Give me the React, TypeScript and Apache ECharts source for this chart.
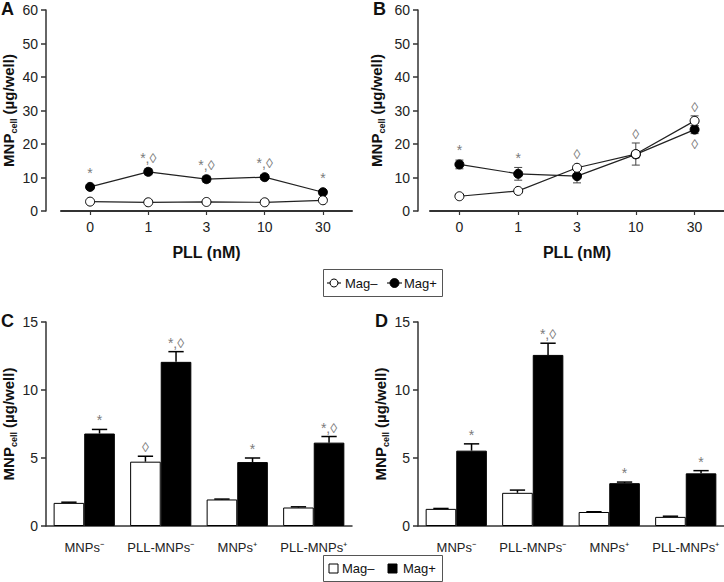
import React, { useEffect, useRef } from "react";
import * as echarts from "echarts";

// ---------- data ----------
const pllDoses = ["0", "1", "3", "10", "30"];

const aMagMinus = [2.8, 2.6, 2.7, 2.6, 3.2];
const aMagMinusErr = [0.2, 0.2, 0.2, 0.2, 0.3];
const aMagPlus = [7.2, 11.7, 9.5, 10.1, 5.6];
const aMagPlusErr = [0.6, 0.9, 0.9, 0.7, 0.5];
const aMagMinusNotes = ["", "", "", "", ""];
const aMagPlusNotes = ["*", "*,◊", "*,◊", "*,◊", "*"];

const bMagMinus = [4.4, 6.0, 12.9, 17.0, 26.9];
const bMagMinusErr = [0.3, 0.3, 0.5, 3.3, 1.5];
const bMagPlus = [13.9, 11.1, 10.4, 16.9, 24.3];
const bMagPlusErr = [1.3, 1.9, 2.0, 1.0, 1.2];
const bMagMinusNotes = ["", "", "◊", "◊", "◊"];
const bMagPlusNotes = ["*", "*", "", "", "◊"];

const particleGroups = ["MNPs⁻", "PLL-MNPs⁻", "MNPs⁺", "PLL-MNPs⁺"];

const cMagMinus = [1.7, 4.73, 1.95, 1.36];
const cMagMinusErr = [0.05, 0.4, 0.03, 0.05];
const cMagPlus = [6.8, 12.07, 4.7, 6.13];
const cMagPlusErr = [0.3, 0.75, 0.3, 0.45];
const cMagMinusNotes = ["", "◊", "", ""];
const cMagPlusNotes = ["*", "*,◊", "*", "*,◊"];

const dMagMinus = [1.26, 2.44, 1.03, 0.67];
const dMagMinusErr = [0.03, 0.2, 0.02, 0.05];
const dMagPlus = [5.54, 12.58, 3.15, 3.87];
const dMagPlusErr = [0.5, 0.86, 0.08, 0.2];
const dMagMinusNotes = ["", "", "", ""];
const dMagPlusNotes = ["*", "*,◊", "*", "*"];

// ---------- style ----------
const FONT = "'Liberation Sans', Arial, Helvetica, sans-serif";
const AXIS = "#333";
const NOTE = "#7a7a7a";

const yName = "{a|MNP}{b|cell}{a| (µg/well)}";
const yNameStyle = {
  rich: {
    a: { fontSize: 15, fontWeight: "bold", fontFamily: FONT, color: "#111", lineHeight: 20 },
    b: { fontSize: 9, fontWeight: "bold", fontFamily: FONT, color: "#111", verticalAlign: "bottom", lineHeight: 20 },
  },
};

function yAxisCfg(grid: number, max: number, interval: number, offset: number, nameGap: number) {
  return {
    type: "value",
    gridIndex: grid,
    min: 0,
    max,
    interval,
    offset,
    axisLine: { show: true, lineStyle: { color: AXIS, width: 1.5 } },
    axisTick: { show: true, length: 5, lineStyle: { color: AXIS, width: 1.5 } },
    splitLine: { show: false },
    axisLabel: { color: "#222", fontSize: 14, fontFamily: FONT, margin: 8 },
    name: yName,
    nameLocation: "middle",
    nameRotate: 90,
    nameGap,
    nameTextStyle: yNameStyle,
  };
}

function lineErrSeries(
  grid: number,
  values: number[],
  errs: number[],
  notes: string[],
  other: number[]
) {
  return {
    type: "custom",
    xAxisIndex: grid,
    yAxisIndex: grid,
    z: 1,
    silent: true,
    data: values.map((v, i) => [i, v]),
    encode: { x: 0, y: 1 },
    renderItem: (params: any, api: any) => {
      const i = params.dataIndex;
      const v = values[i];
      const e = errs[i];
      const c = api.coord([i, v]);
      const top = api.coord([i, v + e]);
      const bot = api.coord([i, v - e]);
      const cap = 4;
      const st = { stroke: "#444", lineWidth: 1 };
      const children: any[] = [
        { type: "line", shape: { x1: c[0], y1: top[1], x2: c[0], y2: bot[1] }, style: st },
        { type: "line", shape: { x1: c[0] - cap, y1: top[1], x2: c[0] + cap, y2: top[1] }, style: st },
        { type: "line", shape: { x1: c[0] - cap, y1: bot[1], x2: c[0] + cap, y2: bot[1] }, style: st },
      ];
      const note = notes[i];
      if (note) {
        const above = v >= other[i];
        if (above) {
          const y = Math.min(top[1], c[1] - 5) - 2;
          children.push({
            type: "text",
            x: c[0],
            y,
            style: { text: note, fill: NOTE, fontSize: 14, fontFamily: FONT, align: "center", verticalAlign: "bottom" },
          });
        } else {
          const y = Math.max(bot[1], c[1] + 5) + 2;
          children.push({
            type: "text",
            x: c[0],
            y,
            style: { text: note, fill: NOTE, fontSize: 14, fontFamily: FONT, align: "center", verticalAlign: "top" },
          });
        }
      }
      return { type: "group", children };
    },
  };
}

function barErrSeries(grid: number, values: number[], errs: number[], notes: string[], side: number) {
  return {
    type: "custom",
    xAxisIndex: grid,
    yAxisIndex: grid,
    z: 3,
    silent: true,
    data: values.map((v, i) => [i, v]),
    encode: { x: 0, y: 1 },
    renderItem: (params: any, api: any) => {
      const i = params.dataIndex;
      const v = values[i];
      const e = errs[i];
      const band = api.size([1, 0])[0];
      const bw = (band * 0.8) / 2;
      const c = api.coord([i, v]);
      const x = c[0] + side * bw / 2;
      const top = api.coord([i, v + e]);
      const cap = bw / 4;
      const st = { stroke: "#000", lineWidth: 1.5 };
      const children: any[] = [
        { type: "line", shape: { x1: x, y1: c[1], x2: x, y2: top[1] }, style: st },
        { type: "line", shape: { x1: x - cap, y1: top[1], x2: x + cap, y2: top[1] }, style: st },
      ];
      const note = notes[i];
      if (note) {
        children.push({
          type: "text",
          x,
          y: top[1] - 2,
          style: { text: note, fill: NOTE, fontSize: 14, fontFamily: FONT, align: "center", verticalAlign: "bottom" },
        });
      }
      return { type: "group", children };
    },
  };
}

function lineSeries(grid: number, name: string, values: number[], fill: string, z: number) {
  return {
    type: "line",
    name,
    xAxisIndex: grid,
    yAxisIndex: grid,
    data: values,
    z,
    symbol: "circle",
    symbolSize: 9,
    itemStyle: { color: fill, borderColor: "#000", borderWidth: 1 },
    lineStyle: { color: "#222", width: 1.2 },
  };
}

function barSeries(grid: number, name: string, values: number[], fill: string) {
  return {
    type: "bar",
    name,
    xAxisIndex: grid,
    yAxisIndex: grid,
    data: values,
    z: 2,
    barGap: "0%",
    barCategoryGap: "20%",
    itemStyle: { color: fill, borderColor: "#000", borderWidth: 1 },
  };
}

function lineXAxis(grid: number) {
  return {
    type: "category",
    gridIndex: grid,
    data: pllDoses,
    boundaryGap: true,
    axisLine: { show: true, lineStyle: { color: AXIS, width: 2 } },
    axisTick: { show: true, alignWithLabel: true, length: 4, lineStyle: { color: AXIS, width: 1.2 } },
    axisLabel: { color: "#222", fontSize: 14, fontFamily: FONT, margin: 9 },
    name: "PLL (nM)",
    nameLocation: "middle",
    nameGap: 33,
    nameTextStyle: { fontSize: 16, fontWeight: "bold", fontFamily: FONT, color: "#111" },
  };
}

function barXAxis(grid: number) {
  return {
    type: "category",
    gridIndex: grid,
    data: particleGroups,
    axisLine: { show: true, lineStyle: { color: AXIS, width: 1.5 } },
    axisTick: { show: false },
    axisLabel: { color: "#222", fontSize: 13, fontFamily: FONT, margin: 15, interval: 0 },
  };
}

function panelLabel(t: string, x: number, y: number) {
  return {
    type: "text",
    x,
    y,
    style: { text: t, fontSize: 18, fontWeight: "bold", fontFamily: FONT, fill: "#111", verticalAlign: "middle" },
  };
}

const legendText = (t: string, x: number, y: number) => ({
  type: "text",
  x,
  y,
  style: { text: t, fontSize: 13, fontFamily: FONT, fill: "#111", verticalAlign: "middle" },
});

export default function App() {
  const ref = useRef<HTMLDivElement>(null);
  useEffect(() => {
    if (!ref.current) return;
    const chart = echarts.init(ref.current, undefined, { renderer: "svg" });
    const option: any = {
      animation: false,
      backgroundColor: "#fff",
      grid: [
        { left: 60, top: 10, width: 292, height: 201 },
        { left: 430, top: 10, width: 294, height: 201 },
        { left: 45, top: 322, width: 307, height: 204 },
        { left: 418, top: 322, width: 306, height: 204 },
      ],
      xAxis: [lineXAxis(0), lineXAxis(1), barXAxis(2), barXAxis(3)],
      yAxis: [
        yAxisCfg(0, 60, 10, 15, 27),
        yAxisCfg(1, 60, 10, 12, 32),
        yAxisCfg(2, 15, 5, 0, 26),
        yAxisCfg(3, 15, 5, 0, 23),
      ],
      series: [
        lineErrSeries(0, aMagMinus, aMagMinusErr, aMagMinusNotes, aMagPlus),
        lineErrSeries(0, aMagPlus, aMagPlusErr, aMagPlusNotes, aMagMinus),
        lineSeries(0, "Mag–", aMagMinus, "#fff", 4),
        lineSeries(0, "Mag+", aMagPlus, "#000", 3),
        lineErrSeries(1, bMagMinus, bMagMinusErr, bMagMinusNotes, bMagPlus),
        lineErrSeries(1, bMagPlus, bMagPlusErr, bMagPlusNotes, bMagMinus),
        lineSeries(1, "Mag–", bMagMinus, "#fff", 4),
        lineSeries(1, "Mag+", bMagPlus, "#000", 3),
        barSeries(2, "Mag–", cMagMinus, "#fff"),
        barSeries(2, "Mag+", cMagPlus, "#000"),
        barErrSeries(2, cMagMinus, cMagMinusErr, cMagMinusNotes, -1),
        barErrSeries(2, cMagPlus, cMagPlusErr, cMagPlusNotes, 1),
        barSeries(3, "Mag–", dMagMinus, "#fff"),
        barSeries(3, "Mag+", dMagPlus, "#000"),
        barErrSeries(3, dMagMinus, dMagMinusErr, dMagMinusNotes, -1),
        barErrSeries(3, dMagPlus, dMagPlusErr, dMagPlusNotes, 1),
      ],
      graphic: [
        panelLabel("A", 1, 9),
        panelLabel("B", 373, 9),
        panelLabel("C", 1, 321),
        panelLabel("D", 375, 321),
        // legend for line panels
        {
          type: "rect",
          shape: { x: 323.5, y: 269.5, width: 119, height: 27 },
          style: { fill: "#fff", stroke: "#555", lineWidth: 1 },
        },
        { type: "line", shape: { x1: 327, y1: 283, x2: 341, y2: 283 }, style: { stroke: "#222", lineWidth: 1.2 } },
        { type: "circle", shape: { cx: 334, cy: 283, r: 4 }, style: { fill: "#fff", stroke: "#000", lineWidth: 1 } },
        legendText("Mag–", 345, 283),
        { type: "line", shape: { x1: 387, y1: 283, x2: 402, y2: 283 }, style: { stroke: "#222", lineWidth: 1.2 } },
        { type: "circle", shape: { cx: 394.5, cy: 283, r: 4.5 }, style: { fill: "#000", stroke: "#000", lineWidth: 1 } },
        legendText("Mag+", 404, 283),
        // legend for bar panels
        {
          type: "rect",
          shape: { x: 323.5, y: 555.5, width: 119, height: 26 },
          style: { fill: "#fff", stroke: "#555", lineWidth: 1 },
        },
        { type: "rect", shape: { x: 329, y: 564, width: 9, height: 9 }, style: { fill: "#fff", stroke: "#000", lineWidth: 1 } },
        legendText("Mag–", 342, 568.5),
        { type: "rect", shape: { x: 388, y: 564, width: 9, height: 9 }, style: { fill: "#000", stroke: "#000", lineWidth: 1 } },
        legendText("Mag+", 403, 568.5),
      ],
    };
    chart.setOption(option);
    return () => chart.dispose();
  }, []);
  return (
    <div
      ref={ref}
      style={{ position: "fixed", left: 0, top: 0, width: 724, height: 582, background: "#fff" }}
    />
  );
}
